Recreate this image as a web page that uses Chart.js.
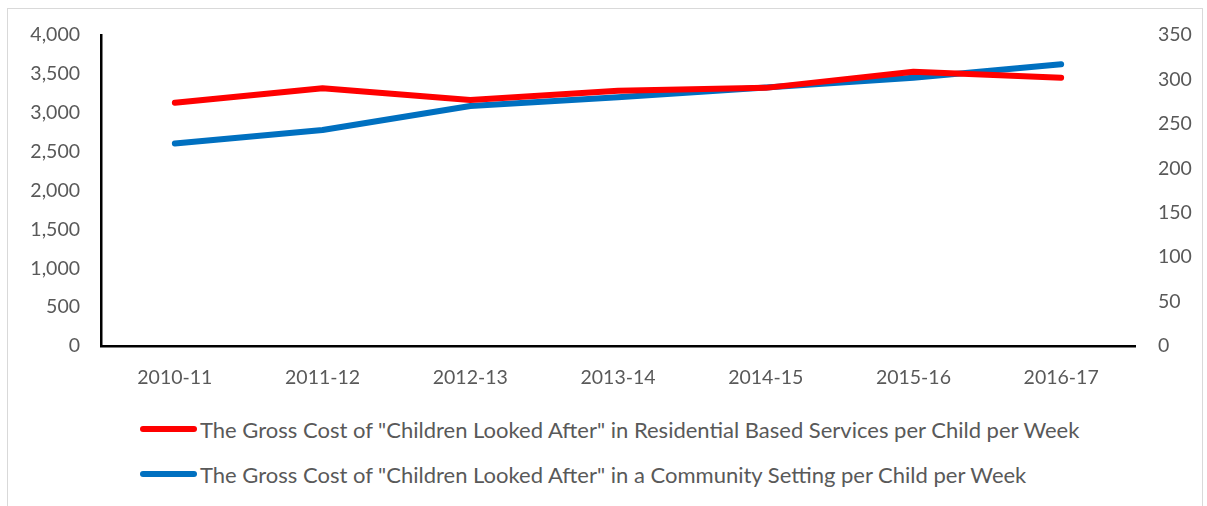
<!DOCTYPE html>
<html lang="en">
  <head>
    <meta charset="utf-8">
    <title>Gross cost of children looked after</title>
    <script src="https://cdn.jsdelivr.net/npm/chart.js@4.4.0/dist/chart.umd.min.js"></script>
    <style>
      body { margin: 0; background: #fff; font-family: Lato, sans-serif; }
      #frame {
        position: absolute; left: 7px; top: 8px; width: 1196px; height: 510px;
        border: 1px solid #d9d9d9; box-sizing: border-box;
      }
      #wrap { position: absolute; left: 0; top: 0; width: 1207px; height: 392px; }
      #legend { position: absolute; left: 140px; top: 413px; }
      .item { display: flex; align-items: center; height: 32px; margin-bottom: 13px;
              font-size: 22px; color: #595959; white-space: nowrap; }
      .swatch { width: 57px; height: 6px; border-radius: 3px; margin-right: 3px; }
    </style>
  </head>
  <body>
    <div id="frame"></div>
    <div id="wrap"><canvas id="chart"></canvas></div>
    <div id="legend"></div>

    <script>
    const years = ['2010-11', '2011-12', '2012-13', '2013-14', '2014-15', '2015-16', '2016-17'];
    // residential cost, left axis (£)
    const residential = [3129, 3315, 3164, 3284, 3320, 3528, 3451];
    // community setting cost, right axis (£)
    const community = [228, 243, 270, 280, 291, 302, 317];

    const residentialLabel = 'The Gross Cost of "Children Looked After" in Residential Based Services per Child per Week';
    const communityLabel = 'The Gross Cost of "Children Looked After" in a Community Setting per Child per Week';

    const grey = '#595959';
    const tickFont = { family: 'Lato', size: 19.5 };

    const ctx = document.getElementById('chart').getContext('2d');
    const chart = new Chart(ctx, {
      type: 'line',
      data: {
        labels: years,
        datasets: [{
          label: residentialLabel,
          data: residential,
          yAxisID: 'y',
          borderColor: '#ff0000',
          backgroundColor: '#ff0000',
          borderWidth: 6,
          borderCapStyle: 'round',
          borderJoinStyle: 'round',
          pointRadius: 0,
          tension: 0
        }, {
          label: communityLabel,
          data: community,
          yAxisID: 'y1',
          borderColor: '#0070c0',
          backgroundColor: '#0070c0',
          borderWidth: 6,
          borderCapStyle: 'round',
          borderJoinStyle: 'round',
          pointRadius: 0,
          tension: 0
        }]
      },
      options: {
        responsive: true,
        maintainAspectRatio: false,
        animation: false,
        layout: { padding: { top: 35, left: 0, right: 0, bottom: 0 } },
        plugins: { legend: { display: false }, tooltip: { enabled: false } },
        scales: {
          x: {
            offset: true,
            grid: { display: false, drawTicks: false },
            border: { display: true, color: '#000', width: 2.5 },
            ticks: { color: grey, font: tickFont, padding: 20, maxRotation: 0 },
            afterFit: s => { s.height = 46; }
          },
          y: {
            position: 'left',
            min: 0, max: 4000,
            grid: { display: false, drawTicks: false },
            border: { display: true, color: '#000', width: 2.5 },
            ticks: {
              stepSize: 500, color: grey, font: tickFont, padding: 21,
              callback: v => v.toLocaleString('en-GB')
            },
            afterFit: s => { s.width = 101; }
          },
          y1: {
            position: 'right',
            min: 0, max: 350,
            grid: { display: false, drawTicks: false },
            border: { display: false },
            ticks: { stepSize: 50, color: grey, font: tickFont, padding: 23 },
            afterFit: s => { s.width = 72; }
          }
        }
      }
    });

    // legend below the plot, one row per series
    const legend = document.getElementById('legend');
    chart.data.datasets.forEach(ds => {
      const row = document.createElement('div');
      row.className = 'item';
      const sw = document.createElement('span');
      sw.className = 'swatch';
      sw.style.background = ds.borderColor;
      const txt = document.createElement('span');
      txt.textContent = ds.label;
      row.appendChild(sw);
      row.appendChild(txt);
      legend.appendChild(row);
    });
    </script>
  </body>
</html>
